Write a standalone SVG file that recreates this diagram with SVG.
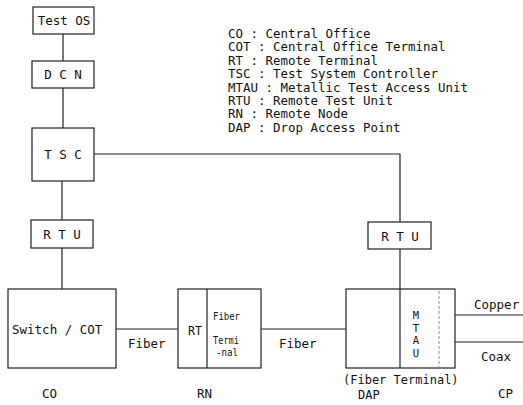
<svg xmlns="http://www.w3.org/2000/svg" width="523" height="405" viewBox="0 0 523 405">
<style>
  .box { fill: #fff; stroke: #222; stroke-width: 1.2; }
  .ln { fill: none; stroke: #222; stroke-width: 1.2; }
  .dash { fill: none; stroke: #888; stroke-width: 1; stroke-dasharray: 3 2; }
  text { font-family: "DejaVu Sans Mono", "Liberation Mono", monospace; font-size: 12.5px; fill: #111; }
  .c { text-anchor: middle; }
  .lg { font-size: 11.4px; }
  .sm { font-size: 10px; }
  .v { font-size: 10.5px; text-anchor: middle; }
</style>
<rect width="523" height="405" fill="#fff"/>

<g id="connectors">
  <line class="ln" x1="63" y1="34" x2="63" y2="61"/>
  <line class="ln" x1="63" y1="88" x2="63" y2="128"/>
  <line class="ln" x1="62" y1="181" x2="62" y2="220"/>
  <polyline class="ln" points="94,154 400,154 400,222"/>
  <line class="ln" x1="62" y1="248" x2="62" y2="289"/>
  <line class="ln" x1="400" y1="249" x2="400" y2="289"/>
  <line class="ln" x1="116" y1="329" x2="178" y2="329"/>
  <line class="ln" x1="261" y1="329" x2="346" y2="329"/>
  <line class="ln" x1="455" y1="315" x2="523" y2="315"/>
  <line class="ln" x1="455" y1="342" x2="523" y2="342"/>
</g>

<g id="legend">
  <text class="lg" x="228" y="38" textLength="142.5" lengthAdjust="spacingAndGlyphs" xml:space="preserve">CO : Central Office</text>
  <text class="lg" x="228" y="51.4" textLength="217.5" lengthAdjust="spacingAndGlyphs" xml:space="preserve">COT : Central Office Terminal</text>
  <text class="lg" x="228" y="64.8" textLength="150" lengthAdjust="spacingAndGlyphs" xml:space="preserve">RT : Remote Terminal</text>
  <text class="lg" x="228" y="78.2" textLength="210" lengthAdjust="spacingAndGlyphs" xml:space="preserve">TSC : Test System Controller</text>
  <text class="lg" x="228" y="91.6" textLength="240" lengthAdjust="spacingAndGlyphs" xml:space="preserve">MTAU : Metallic Test Access Unit</text>
  <text class="lg" x="228" y="105" textLength="165" lengthAdjust="spacingAndGlyphs" xml:space="preserve">RTU : Remote Test Unit</text>
  <text class="lg" x="228" y="118.4" textLength="120" lengthAdjust="spacingAndGlyphs" xml:space="preserve">RN : Remote Node</text>
  <text class="lg" x="228" y="131.8" textLength="172.5" lengthAdjust="spacingAndGlyphs" xml:space="preserve">DAP : Drop Access Point</text>
</g>

<g id="test-os">
  <rect class="box" x="33" y="7" width="61" height="27"/>
  <text class="c" x="64" y="25">Test OS</text>
</g>
<g id="dcn">
  <rect class="box" x="32" y="61" width="62" height="27"/>
  <text class="c" x="63" y="79" xml:space="preserve">D C N</text>
</g>
<g id="tsc">
  <rect class="box" x="32" y="128" width="62" height="53"/>
  <text class="c" x="63" y="159" xml:space="preserve">T S C</text>
</g>
<g id="rtu-left">
  <rect class="box" x="31" y="220" width="62" height="28"/>
  <text class="c" x="62" y="239" xml:space="preserve">R T U</text>
</g>
<g id="rtu-right">
  <rect class="box" x="368" y="222" width="63" height="27"/>
  <text class="c" x="400" y="241" xml:space="preserve">R T U</text>
</g>

<g id="switch-cot">
  <rect class="box" x="8" y="289" width="108" height="79"/>
  <text x="12" y="334">Switch / COT</text>
</g>
<g id="rn">
  <rect class="box" x="178" y="289" width="83" height="79"/>
  <line class="ln" x1="207" y1="289" x2="207" y2="368"/>
  <text x="188" y="335" textLength="14" lengthAdjust="spacingAndGlyphs">RT</text>
  <text class="sm" x="213" y="320" textLength="27" lengthAdjust="spacingAndGlyphs">Fiber</text>
  <text class="sm" x="213" y="344" textLength="26" lengthAdjust="spacingAndGlyphs">Termi</text>
  <text class="sm" x="216" y="356" textLength="22" lengthAdjust="spacingAndGlyphs">-nal</text>
</g>
<g id="dap">
  <rect class="box" x="346" y="289" width="109" height="79"/>
  <line class="ln" x1="400" y1="289" x2="400" y2="368"/>
  <line class="dash" x1="439" y1="291" x2="439" y2="368"/>
  <text class="v" x="416" y="319">M</text>
  <text class="v" x="416" y="331.5">T</text>
  <text class="v" x="416" y="344">A</text>
  <text class="v" x="416" y="356.5">U</text>
</g>

<g id="labels">
  <text x="128" y="348">Fiber</text>
  <text x="279" y="348">Fiber</text>
  <text x="474" y="309">Copper</text>
  <text x="481" y="361">Coax</text>
  <text x="42" y="398">CO</text>
  <text x="197" y="398">RN</text>
  <text x="343" y="384" style="font-size:12px">(Fiber Terminal)</text>
  <text x="358" y="399" style="font-size:12px">DAP</text>
  <text x="498" y="398">CP</text>
</g>
</svg>
